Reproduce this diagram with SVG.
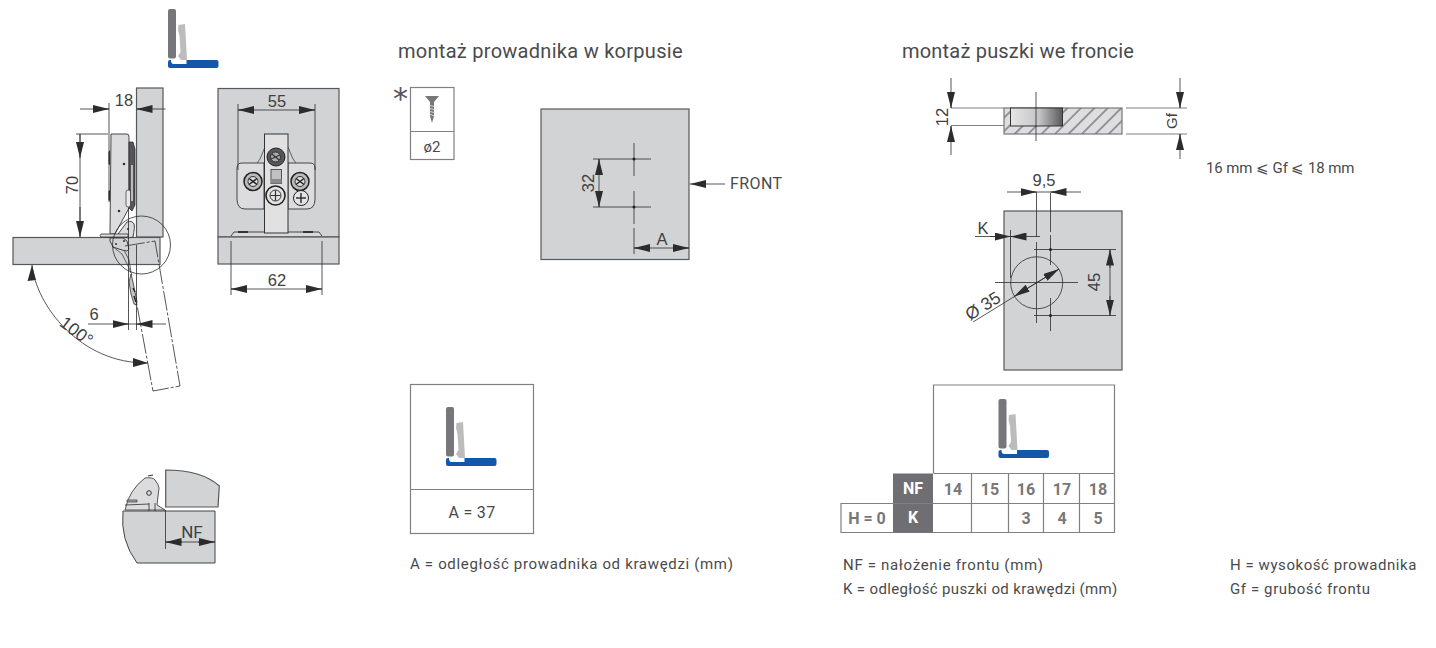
<svg xmlns="http://www.w3.org/2000/svg" width="1436" height="648" viewBox="0 0 1436 648">
<style>
text{font-family:"Roboto","Liberation Sans",sans-serif;fill:#4a4a4c}
.t{font-size:20px;letter-spacing:.28px}
.n{font-size:15px;letter-spacing:.6px}
.d{font-family:"Liberation Sans",sans-serif;font-size:16.500px;fill:#3f3f42;text-anchor:middle}
.c{font-size:16px;font-weight:700;text-anchor:middle;fill:#77777a}
.w{font-size:16px;font-weight:700;text-anchor:middle;fill:#fff}
.p{fill:#d2d3d5;stroke:#58585a;stroke-width:1.2}
.l{fill:none;stroke:#2c2c2e;stroke-width:.8}
.m{fill:none;stroke:#2c2c2e;stroke-width:.8}
.a{fill:none;stroke:#2c2c2e;stroke-width:.8;marker-end:url(#ah)}
.dd{fill:none;stroke:#2c2c2e;stroke-width:.8;stroke-dasharray:20 2 3 2}
.h{fill:none;stroke:#444;stroke-width:.8}
.g{fill:none;stroke:#808082;stroke-width:1.2}
.hp{fill:#dcdcde;stroke:#333;stroke-width:.9}
</style>
<defs>
<marker id="ah" markerUnits="userSpaceOnUse" markerWidth="16" markerHeight="8" refX="16" refY="4" orient="auto"><path d="M0 0L16 4L0 8Z" fill="#2c2c2e"/></marker>
<linearGradient id="cup" x1="0" x2="1" y1="0" y2="0"><stop offset="0" stop-color="#e6e6e7"/><stop offset=".55" stop-color="#c4c4c6"/><stop offset="1" stop-color="#59595c"/></linearGradient>
<pattern id="hat" width="9.500" height="9.500" patternUnits="userSpaceOnUse" patternTransform="rotate(45)"><rect width="9.500" height="9.500" fill="#dedee0"/><path d="M4.750 0V9.500" stroke="#3a3a3c" stroke-width=".9"/></pattern>
<g id="icon">
<rect x="168" y="60" width="50.500" height="8" rx="2" fill="#1457a8"/>
<path d="M171 60h15.500v4h-13q-2.500 0-2.500-4z" fill="#fff"/>
<rect x="168" y="9" width="8" height="49.500" rx="2" fill="#77777b"/>
<path d="M178.500 25L185 24L187 60H181L178 56L180.500 52L179.500 36L178 30Z" fill="#bcbcbe"/>
</g>
</defs>

<g id="icon-top"><use href="#icon"/></g>

<g id="side-view">
<rect class="p" x="136.500" y="88" width="26.500" height="149"/>
<rect class="p" x="13" y="237.500" width="147" height="27"/>
<path class="hp" d="M111 134h16q2 0 2 3v71l-14 26h-4q-1 0-1-1z"/>
<path d="M110 150l-1.500 2v12l1.500 1zM110 190l-1.500 1v9l1.500 1z" fill="#333"/>
<path d="M129 142h4l2 7v56l-3 6-3-3z" fill="#55555a" stroke="#222" stroke-width=".7"/>
<rect x="131" y="165" width="2" height="36" fill="#bbb"/>
<rect x="126" y="190" width="4.500" height="17" rx="2" fill="#e8e8e9" stroke="#333" stroke-width=".7"/>
<circle cx="124" cy="164" r="1.300" fill="#333"/><circle cx="119" cy="211" r="1.300" fill="#333"/>
<path class="hp" d="M118 234l9-12q5-2 7 2q1 3-1 13l-5 1z"/>
<circle cx="128" cy="229" r="1.100" fill="#333"/>
<path d="M101 234h27v3h-27q-2-1 0-3z" fill="#ddd" stroke="#333" stroke-width=".8"/>
<path d="M110 238h13l4 3 2 8-2 2-5-1-9-3-3-6z" fill="#d2d3d5" stroke="#333" stroke-width=".9"/>
<circle cx="116" cy="244" r="1" fill="#333"/><circle cx="124" cy="241" r="1" fill="#333"/>
<path class="h" d="M112 246l10 8 7 14 3 7M124 250l5 10 2 12"/>
<path d="M131 274l2 8 4 20-1 3-2-1-3-10-2-12z" fill="#c4c4c6" stroke="#333" stroke-width=".8"/>
<path d="M133 288l2 4M134 296l2 6" stroke="#222" stroke-width="1.400"/>
<circle cx="141.500" cy="245" r="29" class="l"/>
<path class="dd" d="M125 246L155 241L180 386L153 391L136 300"/>
<path class="m" d="M128.500 208V330M136.500 245V330"/>
<path class="m" d="M109 103V202"/>
<path class="m" d="M80 109H109M165.500 109H137"/>
<path class="a" d="M95 109H109"/><path class="a" d="M152 109H136.500"/>
<path class="m" d="M76 134H108"/>
<path class="a" d="M80 134V158"/><path class="a" d="M80 207V237"/><path class="m" d="M80 134V237"/>
<text class="d" x="124" y="106">18</text>
<text class="d" transform="translate(78 185) rotate(-90)">70</text>
<path class="m" d="M88 324H166"/>
<path class="a" d="M113 324H128.500"/><path class="a" d="M152 324H136.500"/>
<text class="d" x="94" y="320">6</text>
<path class="m" d="M32 265C36 305 80 364 148 363"/>
<path d="M32 265l-4.500 16 8.500-1z" fill="#2c2c2e"/>
<path d="M148 363l-15-5 0 9z" fill="#2c2c2e"/>
<text class="d" transform="translate(73 336) rotate(37)" style="font-size:17.500px">100°</text>
</g>

<g id="front-view">
<rect class="p" x="218" y="88.500" width="121" height="148.500"/>
<rect class="p" x="218" y="237" width="121" height="27"/>
<path d="M231 236l3-4h85l3 4" fill="#d9d9db" stroke="#333" stroke-width=".9"/>
<path d="M238 232h10M303 232h10" stroke="#333" stroke-width="1.800"/>
<path class="hp" d="M258 163h-16q-5 0-5 5v31q0 10 8 10h19v-46zM296 163h14q5 0 5 5v31q0 10-8 10h-19v-46z" stroke-width="1.300"/>
<path class="h" d="M265 147l-5 12-3 4M288 147l5 12 3 4"/>
<rect x="264.500" y="134" width="23.500" height="99" fill="#e1e1e2" stroke="#333" stroke-width="1"/>
<circle cx="276" cy="157" r="9" fill="#55555a" stroke="#222"/><circle cx="275.500" cy="157" r="5" fill="#aaa" stroke="#333"/><path d="M271 159l9-4M272 154l7 6" stroke="#333" stroke-width="1.200"/>
<rect x="271" y="169.500" width="10.500" height="14" fill="#c0c0c2" stroke="#555"/><rect x="271" y="179" width="10.500" height="4.500" fill="#8a8a8c"/>
<circle cx="275.500" cy="195.500" r="9.500" fill="#e4e4e5" stroke="#222" stroke-width="1.600"/><circle cx="275.500" cy="195.500" r="5.500" fill="none" stroke="#333"/><path d="M270.500 195.500h10M275.500 190.500v10" stroke="#333" stroke-width="1.200"/>
<circle cx="253" cy="181.500" r="9" fill="#bbb" stroke="#222" stroke-width="1.500"/><circle cx="253" cy="181.500" r="5" fill="#ddd" stroke="#333"/><path d="M249 178.500l8 6M249 184.500l8-6" stroke="#222" stroke-width="1.500"/>
<circle cx="300" cy="181.500" r="9" fill="#bbb" stroke="#222" stroke-width="1.500"/><circle cx="300" cy="181.500" r="5" fill="#ddd" stroke="#333"/><path d="M296 178.500l8 6M296 184.500l8-6" stroke="#222" stroke-width="1.500"/>
<circle cx="301" cy="198" r="7.500" fill="#e4e4e5" stroke="#222"/><path d="M296 198h10M301 193v10" stroke="#333" stroke-width="1.500"/>
<path class="m" d="M238 104V170M315 104V170M231 241V295M322 241V295"/>
<path class="m" d="M238 110H315M231 289H322"/>
<path class="a" d="M254 110H238"/><path class="a" d="M299 110H315"/>
<path class="a" d="M247 289H231"/><path class="a" d="M306 289H322"/>
<text class="d" x="277" y="107">55</text>
<text class="d" x="277" y="286">62</text>
</g>

<g id="detail-nf">
<path class="p" d="M165.700 470q36 0 53.600 16l-1.300 21h-52.300z" stroke="#333"/>
<path d="M125 511H215V563H137Q120 540 123 511Z" fill="#d2d3d5" stroke="#444"/>
<path d="M125 510q4-20 20-32q8-1 10 2 4 5 4 8l-2 17 8 5H125z" fill="#dcdcde" stroke="#444" stroke-width=".9"/>
<circle cx="149" cy="493" r="2.300" fill="none" stroke="#333"/>
<path d="M148 476l5-1" stroke="#333" stroke-width="1.200"/>
<path d="M127 500h10v2h-10z" fill="#aaa" stroke="#333" stroke-width=".7"/>
<path class="m" d="M125 505l24-1M149 503v8M155 503v8"/>
<path class="m" d="M165.500 510V549"/>
<path class="a" d="M182 542H165.500"/><path class="a" d="M198 542H215"/><path class="m" d="M165.500 542H215"/>
<text class="d" x="192" y="538" style="font-family:Roboto,sans-serif;font-size:17px">NF</text>
</g>

<g id="title-left"><text class="t" x="398" y="58">montaż prowadnika w korpusie</text></g>
<g id="title-right"><text class="t" x="902" y="58" style="letter-spacing:.2px">montaż puszki we froncie</text></g>

<g id="screw-table">
<text x="393" y="109" style="font-size:30px;font-family:'DejaVu Sans',sans-serif;fill:#55555a">*</text>
<rect class="g" x="410.500" y="87.500" width="43.500" height="72"/>
<path class="g" d="M410.500 131.500H454"/>
<path d="M425 96h14l-5 6v14l-2 7-2-7v-14z" fill="#77777b"/>
<path d="M428 105l8 2M428 108l8 2M428 111l8 2M429 114l6 2" stroke="#eee" stroke-width=".8"/>
<text x="432" y="152" style="font-size:15px;text-anchor:middle">ø2</text>
</g>

<g id="plate-korpus">
<rect class="p" x="541" y="109" width="148" height="150.500"/>
<path class="m" d="M634 143V176M634 191V224M634 228V254M593 159H651M593 207H651"/>
<circle cx="634" cy="159" r="1.500" fill="#222"/><circle cx="634" cy="207" r="1.500" fill="#222"/>
<path class="a" d="M599 175V159"/><path class="a" d="M599 191V207"/><path class="m" d="M599 159V207"/>
<path class="a" d="M650 248H634"/><path class="a" d="M673 248H689"/><path class="m" d="M634 248H689"/>
<path class="a" d="M725 184H690"/>
<text class="d" transform="translate(594 183) rotate(-90)">32</text>
<text class="d" x="662" y="245">A</text>
<text x="730" y="189" style="font-size:16px;letter-spacing:.4px">FRONT</text>
</g>

<g id="table-a">
<rect class="g" x="410.500" y="384.500" width="123" height="149"/>
<path class="g" d="M410.500 489.500H533.500"/>
<use href="#icon" x="278" y="398"/>
<text x="472" y="518" style="font-size:16px;text-anchor:middle;letter-spacing:.3px">A = 37</text>
</g>

<g id="drill-top">
<path class="g" d="M951 108H1004M951 125.500H1011M1126 108H1187M1126 134H1187"/>
<rect x="1004" y="108" width="118" height="26" fill="url(#hat)" stroke="#777" stroke-width="1.200"/>
<rect x="1010.500" y="108" width="52" height="18" fill="url(#cup)" stroke="#333" stroke-width="1"/>
<path class="m" d="M1036 92V141M951 78V108M951 126V155M1180 78V108M1180 134V159"/>
<path class="a" d="M951 93V108"/><path class="a" d="M951 142V126"/>
<path class="a" d="M1180 93V108"/><path class="a" d="M1180 150V134"/>
<text class="d" transform="translate(948 117) rotate(-90)">12</text>
<text class="d" transform="translate(1177 121) rotate(-90)" style="font-size:15px">Gf</text>
</g>
<g id="gf-range"><text class="n" x="1206" y="173" style="letter-spacing:-.1px">16 mm ⩽ Gf ⩽ 18 mm</text></g>

<g id="plate-puszka">
<rect class="p" x="1004" y="211" width="118" height="159"/>
<circle cx="1036.700" cy="282.800" r="26" class="l"/>
<path class="m" d="M1036.500 192V237M1036.500 242V323M1050.500 193V232M1050.500 235V265M1050.500 298V331M995 282.500H1078M1034 249.500H1116M1034 315.500H1116M1010.500 230V278M975 236.500H1040"/>
<circle cx="1050.500" cy="249.500" r="1.500" fill="#222"/><circle cx="1050.500" cy="315.500" r="1.500" fill="#222"/>
<path class="m" d="M1007 192H1081"/>
<path class="a" d="M1021 192H1036.500"/><path class="a" d="M1066 192H1050.500"/>
<path class="a" d="M990 236.500H1010.500"/><path class="a" d="M1026 236.500H1010.500"/>
<path class="a" d="M1110 268V249.500"/><path class="a" d="M1110 296V315.500"/><path class="m" d="M1110 249.500V315.500"/>
<path class="m" d="M973 322L1059 269"/>
<path class="a" d="M1036.500 282.800L1059 269"/><path class="a" d="M1036.500 282.800L1014 296.500"/>
<text class="d" x="1044" y="186">9,5</text>
<text class="d" x="983" y="234">K</text>
<text class="d" transform="translate(1100 282) rotate(-90)">45</text>
<text class="d" transform="translate(986 311) rotate(-32)" style="font-size:17.500px">Ø 35</text>
</g>

<g id="table-nf">
<path class="g" d="M933.500 473V385H1114.500V532.500H841V503.500H1114.500M933.500 473.500H1114.500M971.500 473.500V532.500M1008.500 473.500V532.500M1043.500 473.500V532.500M1079.500 473.500V532.500"/>
<use href="#icon" x="830.500" y="390"/>
<rect x="893" y="473.500" width="40" height="29.500" fill="#6f6f73"/>
<rect x="893" y="504" width="40" height="28.500" fill="#6f6f73"/>
<text class="w" x="913" y="494">NF</text><text class="w" x="913" y="523">K</text>
<text class="c" x="953" y="495">14</text><text class="c" x="990" y="495">15</text><text class="c" x="1026" y="495">16</text><text class="c" x="1062" y="495">17</text><text class="c" x="1098" y="495">18</text>
<text class="c" x="867" y="524">H = 0</text>
<text class="c" x="1026" y="524">3</text><text class="c" x="1062" y="524">4</text><text class="c" x="1098" y="524">5</text>
</g>

<g id="legend">
<text class="n" x="410" y="569" style="letter-spacing:.67px">A = odległość prowadnika od krawędzi (mm)</text>
<text class="n" x="843" y="570" style="letter-spacing:.68px">NF = nałożenie frontu (mm)</text>
<text class="n" x="843" y="594" style="letter-spacing:.36px">K = odległość puszki od krawędzi (mm)</text>
<text class="n" x="1230" y="570" style="letter-spacing:.56px">H = wysokość prowadnika</text>
<text class="n" x="1230" y="594" style="letter-spacing:.6px">Gf = grubość frontu</text>
</g>
</svg>
